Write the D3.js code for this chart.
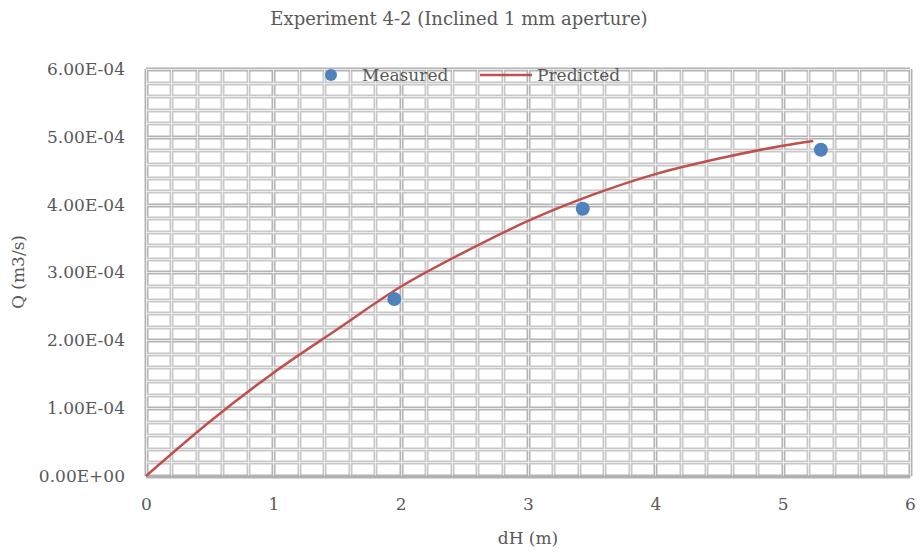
<!DOCTYPE html>
<html>
<head>
<meta charset="utf-8">
<script src="https://cdn.jsdelivr.net/npm/d3@7"></script>
<style>
  html, body { margin: 0; padding: 0; background: #fff; }
  svg { display: block; }
  text { font-family: "DejaVu Serif", "Liberation Serif", serif; fill: #595959; }
</style>
</head>
<body>
<svg id="chart" width="922" height="556"></svg>
<script>
// Measured flow vs head difference
const measuredDH = [1.95, 3.43, 5.30];
const measuredQ  = [2.61e-4, 3.94e-4, 4.81e-4];

// Predicted flow curve
const predictedDH = [0, 0.5, 1.0, 1.5, 2.0, 2.5, 3.0, 3.5, 4.0, 4.5, 5.0, 5.24];
const predictedQ  = [0, 0.80e-4, 1.52e-4, 2.16e-4, 2.79e-4, 3.30e-4, 3.76e-4, 4.14e-4, 4.45e-4, 4.68e-4, 4.87e-4, 4.94e-4];

const xTicks = [0, 1, 2, 3, 4, 5, 6];
const yTicks = [0, 1e-4, 2e-4, 3e-4, 4e-4, 5e-4, 6e-4];
const yTickLabels = ["0.00E+00", "1.00E-04", "2.00E-04", "3.00E-04", "4.00E-04", "5.00E-04", "6.00E-04"];

const titleText = "Experiment 4-2 (Inclined 1 mm aperture)";
const xTitle = "dH (m)";
const yTitle = "Q (m3/s)";
const seriesNames = ["Measured", "Predicted"];

const svg = d3.select("#chart");
const plot = { left: 146, right: 910, top: 69, bottom: 476 };

const x = d3.scaleLinear().domain([0, 6]).range([plot.left, plot.right]);
const y = d3.scaleLinear().domain([0, 6e-4]).range([plot.bottom, plot.top]);

// Grid: minor lines every 0.2 m and every 2E-05, drawn as bevelled bands
const gx = d3.range(0, 6.0001, 0.2);
const gy = d3.range(0, 6.0001e-4, 0.2e-4);
const grid = svg.append("g");

function band(sel, major) {
  sel.attr("stroke", major ? "#b4b4b4" : "#c8c8c8").attr("stroke-width", 4);
}
function core(sel) {
  sel.attr("stroke", "#ececec").attr("stroke-width", 1);
}

gx.forEach((v, i) => {
  const px = Math.round(x(v)) + 0.5;
  const major = i % 5 === 0;
  grid.append("line").attr("x1", px).attr("x2", px).attr("y1", plot.top).attr("y2", plot.bottom).call(band, major);
});
gy.forEach((v, i) => {
  const py = Math.round(y(v)) + 0.5;
  const major = i % 5 === 0;
  grid.append("line").attr("x1", plot.left).attr("x2", plot.right).attr("y1", py).attr("y2", py).call(band, major);
});
gx.forEach(v => {
  const px = Math.round(x(v)) + 0.5;
  grid.append("line").attr("x1", px).attr("x2", px).attr("y1", plot.top).attr("y2", plot.bottom).call(core);
});
gy.forEach(v => {
  const py = Math.round(y(v)) + 0.5;
  grid.append("line").attr("x1", plot.left).attr("x2", plot.right).attr("y1", py).attr("y2", py).call(core);
});

// Axes (labels only)
const xAxis = d3.axisBottom(x).tickValues(xTicks).tickSize(0).tickPadding(22).tickFormat(d3.format("d"));
svg.append("g").attr("transform", `translate(0,${plot.bottom})`).call(xAxis)
  .call(g => g.select(".domain").attr("stroke", "#b0b0b0").attr("stroke-width", 2))
  .call(g => g.selectAll("text").style("font-size", "17px").attr("fill", "#595959").style("font-family", "DejaVu Serif"));

const yAxis = d3.axisLeft(y).tickValues(yTicks).tickSize(0).tickPadding(21).tickFormat((d, i) => yTickLabels[i]);
svg.append("g").attr("transform", `translate(${plot.left},0)`).call(yAxis)
  .call(g => g.select(".domain").remove())
  .call(g => g.selectAll("text").style("font-size", "17px").attr("fill", "#595959").style("font-family", "DejaVu Serif"));

// Predicted curve
const pred = predictedDH.map((d, i) => [d, predictedQ[i]]);
svg.append("path")
  .datum(pred)
  .attr("fill", "none")
  .attr("stroke", "#c0504d")
  .attr("stroke-width", 2.5)
  .attr("d", d3.line().x(d => x(d[0])).y(d => y(d[1])).curve(d3.curveCatmullRom));

// Measured points
svg.append("g").selectAll("circle")
  .data(measuredDH.map((d, i) => [d, measuredQ[i]]))
  .join("circle")
  .attr("cx", d => x(d[0]))
  .attr("cy", d => y(d[1]))
  .attr("r", 7)
  .attr("fill", "#4f81bd");

// Title
svg.append("text").attr("x", 459).attr("y", 25).attr("text-anchor", "middle")
  .style("font-size", "18px").attr("fill", "#262626").text(titleText);

// Axis titles
svg.append("text").attr("x", 528).attr("y", 544).attr("text-anchor", "middle")
  .style("font-size", "17px").text(xTitle);
svg.append("text").attr("transform", "translate(24,272) rotate(-90)").attr("text-anchor", "middle")
  .style("font-size", "17px").text(yTitle);

// Legend
const lg = svg.append("g");
lg.append("circle").attr("cx", 331).attr("cy", 75).attr("r", 6).attr("fill", "#4f81bd");
lg.append("text").attr("x", 362).attr("y", 81).style("font-size", "17px").text(seriesNames[0]);
lg.append("line").attr("x1", 480).attr("x2", 532).attr("y1", 75).attr("y2", 75)
  .attr("stroke", "#c0504d").attr("stroke-width", 2.5);
lg.append("text").attr("x", 537).attr("y", 81).style("font-size", "17px").text(seriesNames[1]);
</script>
</body>
</html>
